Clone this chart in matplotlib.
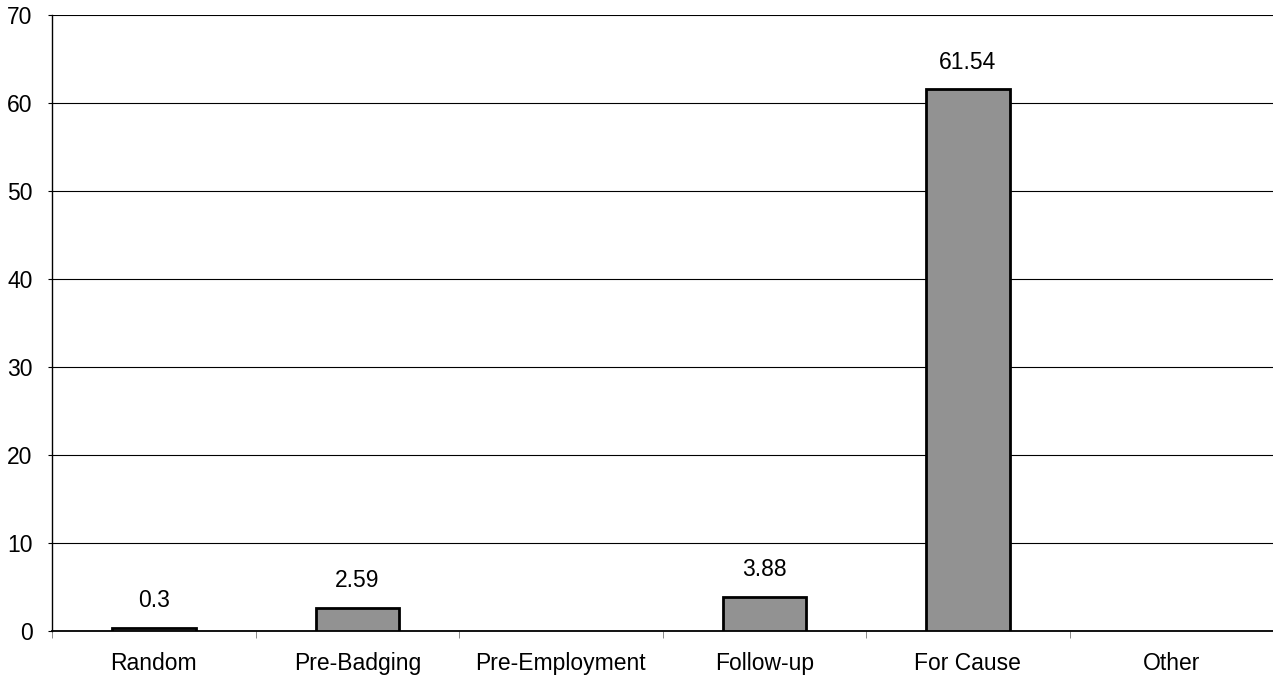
import matplotlib.pyplot as plt
import numpy as np

# Datos del grafico
categorias = ["Random", "Pre-Badging", "Pre-Employment", "Follow-up", "For Cause", "Other"]
valores = [0.3, 2.59, 0.0, 3.88, 61.54, 0.0]
etiquetas = ["0.3", "2.59", "", "3.88", "61.54", ""]

plt.rcParams['font.family'] = ['Liberation Sans', 'DejaVu Sans']

fig = plt.figure(figsize=(12.73, 6.77), dpi=100)
ax = fig.add_axes([0.041, 0.068, 0.959, 0.91])

x = np.arange(len(categorias))
# Las barras con valor cero no se dibujan
bordes = [2 if v > 0 else 0 for v in valores]
barras = ax.bar(x, valores, width=0.41, color='#929292', edgecolor='black',
                linewidth=bordes, zorder=3)

# Etiquetas de valor encima de cada barra
for b, txt in zip(barras, etiquetas):
    if txt:
        ax.text(b.get_x() + b.get_width() / 2, b.get_height() + 1.8, txt,
                ha='center', va='bottom', fontsize=16.5)

ax.set_xlim(-0.5, len(categorias) - 0.5)
ax.set_ylim(0, 70)
ax.set_yticks(range(0, 71, 10))
ax.yaxis.grid(True, color='black', linewidth=0.8, zorder=0)
ax.set_axisbelow(True)

ax.set_xticks(x)
ax.set_xticklabels(categorias, fontsize=16.5)
ax.tick_params(axis='x', length=0, pad=15)
ax.set_xticks(np.arange(-0.5, len(categorias), 1), minor=True)
ax.tick_params(axis='x', which='minor', length=5, color='#777777')
ax.tick_params(axis='y', length=3, labelsize=16.5, pad=11)

for lado in ['top', 'right']:
    ax.spines[lado].set_visible(False)
ax.spines['left'].set_linewidth(1)
ax.spines['bottom'].set_linewidth(1.3)

plt.savefig('out.png', dpi=100)
